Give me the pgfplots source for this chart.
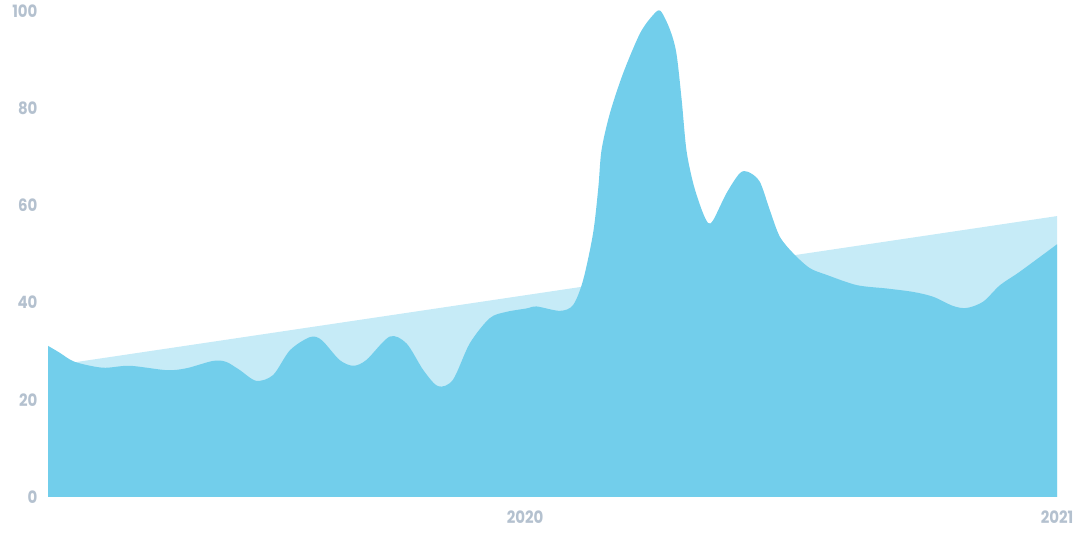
\documentclass[border=0pt]{standalone}
\usepackage{fontspec}
\setmainfont{Poppins}[FakeStretch=0.88]
\usepackage{pgfplots}
\pgfplotsset{compat=1.18}
\definecolor{darkarea}{RGB}{114,206,235}
\definecolor{lightarea}{RGB}{198,235,247}
\definecolor{lbl}{RGB}{180,193,207}
\begin{document}
\begin{tikzpicture}
\useasboundingbox (0,0) rectangle (1080pt,540pt);
\begin{axis}[
  at={(48pt,43pt)}, anchor=south west,
  scale only axis, width=1009pt, height=486pt,
  xmin=2019.086, xmax=2021, ymin=0, ymax=100,
  axis line style={draw=none},
  major tick length=0pt,
  ytick={0,20,40,60,80,100},
  xtick={2019.991,2021}, xticklabels={2020,2021},
  /pgf/number format/assume math mode=true,
  ticklabel style={font=\bfseries\fontsize{17}{17}\selectfont, text=lbl},
  yticklabel style={anchor=east, xshift=-7pt},
  xticklabel style={anchor=north, yshift=-10pt},
  clip=false,
]
\addplot[fill=lightarea, draw=none] coordinates {(2019.086,26.9) (2021,57.8)} \closedcycle;
\addplot[fill=darkarea, draw=none, smooth, tension=0.5] coordinates {
(2019.086,31.1) (2019.108,29.7) (2019.137,27.8) (2019.190,26.6) (2019.241,27.0)
(2019.311,26.1) (2019.349,26.5) (2019.399,28.0) (2019.424,27.8) (2019.450,26.1)
(2019.481,23.9) (2019.513,25.1) (2019.545,30.2) (2019.583,32.9) (2019.605,32.3)
(2019.639,28.2) (2019.665,27.0) (2019.690,28.2) (2019.734,33.0) (2019.766,31.6)
(2019.798,26.1) (2019.826,22.8) (2019.854,24.1) (2019.886,31.6) (2019.924,36.8)
(2019.956,38.1) (2019.994,38.8) (2020.013,39.2) (2020.057,38.3) (2020.082,39.5)
(2020.101,44.6) (2020.120,54.3) (2020.130,63.8) (2020.136,71.4) (2020.152,79.0)
(2020.177,87.2) (2020.209,95.4) (2020.234,99.2) (2020.248,100) (2020.266,96.1)
(2020.278,91.3) (2020.288,81.7) (2020.297,71.4) (2020.310,64.5) (2020.326,59.1)
(2020.338,56.4) (2020.348,57.0) (2020.373,62.5) (2020.398,66.6) (2020.414,66.9)
(2020.436,64.9) (2020.455,59.1) (2020.474,53.6) (2020.500,50.1) (2020.531,47.1)
(2020.563,45.7) (2020.620,43.6) (2020.677,42.9) (2020.727,42.2) (2020.765,41.2)
(2020.803,39.3) (2020.829,38.9) (2020.860,40.2) (2020.892,43.6) (2020.930,46.4)
(2021.000,52.0)
} \closedcycle;
\end{axis}
\end{tikzpicture}
\end{document}
